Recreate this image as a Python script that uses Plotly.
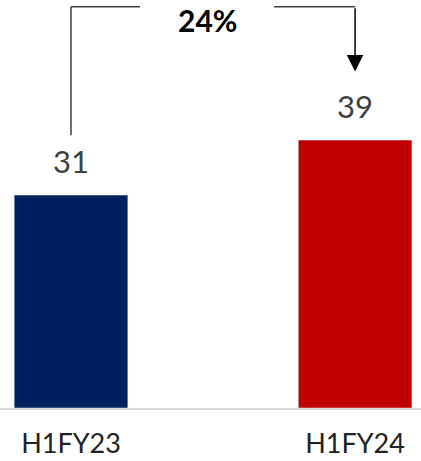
import plotly.graph_objects as go

categories = ["H1FY23", "H1FY24"]
values = [31, 39]
colors = ["#002060", "#C00000"]
growth_label = "24%"

FONT = "Lato"
top_y = max(values) + 19.4

fig = go.Figure()
fig.add_trace(go.Bar(
    x=categories, y=values, marker_color=colors, width=0.4,
    hoverinfo="skip", showlegend=False,
))

# value labels
for c, v in zip(categories, values):
    fig.add_annotation(x=c, y=v, text=str(v), showarrow=False, yanchor="bottom",
                       yshift=13, font=dict(family=FONT, size=31, color="#404040"))

# connector: vertical from above left bar up, horizontal across, arrow down to right bar
fig.add_shape(type="line", xref="x", yref="y", x0=0, x1=0,
              y0=values[0] + 8.7, y1=top_y, line=dict(color="#404040", width=1.5))
fig.add_shape(type="line", xref="x", yref="y", x0=0, x1=0.243,
              y0=top_y, y1=top_y, line=dict(color="#404040", width=1.5))
fig.add_shape(type="line", xref="x", yref="y", x0=0.715, x1=1,
              y0=top_y, y1=top_y, line=dict(color="#404040", width=1.5))
fig.add_annotation(x=1, y=values[1] + 10, ax=1, ay=top_y, xref="x", yref="y",
                   axref="x", ayref="y", text="", showarrow=True,
                   arrowhead=2, arrowsize=2.2, arrowwidth=1.5, arrowcolor="#000000")
fig.add_annotation(x=0.479, y=1, yref="paper", text="<b>" + growth_label + "</b>",
                   showarrow=False, yanchor="top", yshift=0,
                   font=dict(family=FONT, size=30, color="#000000"))

fig.update_layout(
    width=421, height=461,
    margin=dict(l=0, r=0, t=0, b=53, autoexpand=False),
    plot_bgcolor="white", paper_bgcolor="white",
    font=dict(family=FONT),
    bargap=0.6,
)
fig.update_xaxes(range=[-0.25, 1.232], showline=True, linecolor="#d9d9d9", linewidth=2,
                 showgrid=False, ticks="", ticklabelstandoff=11, automargin=False,
                 tickfont=dict(family=FONT, size=27, color="#222222"))
fig.update_yaxes(range=[0, 59.4], visible=False, showgrid=False, zeroline=False,
                 automargin=False)

fig.write_html("out.html")
